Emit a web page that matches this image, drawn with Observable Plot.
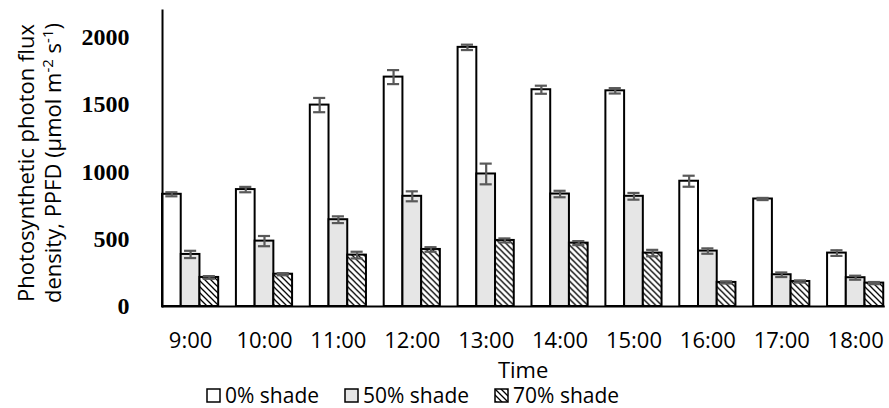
<!DOCTYPE html>
<html>
<head>
<meta charset="utf-8">
<script src="https://cdn.jsdelivr.net/npm/d3@7"></script>
<script src="https://cdn.jsdelivr.net/npm/@observablehq/plot@0.6"></script>
<style>
  body { margin: 0; background: #fff; }
  #chart { width: 889px; height: 408px; position: relative; background: #fff; font-family: "Open Sans", sans-serif; color: #000; }
  .legend { display: flex; align-items: center; height: 26px; padding-left: 206px; font-size: 21px; line-height: 26px; }
  .legend .item { display: flex; align-items: center; margin-right: 25px; }
  .legend svg { margin-right: 4px; }
</style>
</head>
<body>
<div id="chart"></div>
<script>
// ---- data ----
const times = ["9:00", "10:00", "11:00", "12:00", "13:00", "14:00", "15:00", "16:00", "17:00", "18:00"];
const shades = ["0% shade", "50% shade", "70% shade"];
const ppfd0  = [834, 869, 1497, 1705, 1926, 1611, 1603, 931, 799, 397];
const err0   = [15, 20, 53, 52, 20, 30, 20, 41, 8, 21];
const ppfd50 = [387, 486, 645, 819, 985, 836, 819, 412, 236, 214];
const err50  = [27, 38, 25, 37, 77, 24, 25, 20, 17, 15];
const ppfd70 = [216, 240, 382, 424, 491, 471, 397, 179, 186, 174];
const err70  = [10, 8, 25, 17, 15, 15, 24, 8, 8, 8];
const yTicks = [0, 500, 1000, 1500, 2000];
const fills = ["white", "#e6e6e6", "url(#hatch70)"];

const series = [[ppfd0, err0], [ppfd50, err50], [ppfd70, err70]];
const data = [];
times.forEach((t, i) => {
  series.forEach(([vals, errs], j) => {
    data.push({time: t, shade: shades[j], value: vals[i], err: errs[i]});
  });
});

const errColor = "#595959";
const plot = Plot.plot({
  width: 889,
  height: 382,
  marginLeft: 153,
  marginRight: 0,
  marginTop: 10,
  marginBottom: 76,
  style: {fontFamily: "Open Sans, sans-serif", background: "white", color: "black", overflow: "visible"},
  fx: {domain: times, paddingInner: 0.24, paddingOuter: 0.1, align: 0.61, round: false, label: "Time"},
  x: {domain: shades, axis: null, padding: 0, round: false},
  y: {domain: [0, 2200], axis: null},
  color: {domain: shades, range: fills},
  marks: [
    Plot.barY(data, {fx: "time", x: "shade", y: "value", fill: "shade", stroke: "black", strokeWidth: 2}),
    Plot.ruleX(data, {fx: "time", x: "shade", y1: d => d.value - d.err, y2: d => d.value + d.err, stroke: errColor, strokeWidth: 2.2}),
    Plot.tickY(data, {fx: "time", x: "shade", y: d => d.value - d.err, stroke: errColor, strokeWidth: 2.2, insetLeft: 3.3, insetRight: 3.3}),
    Plot.tickY(data, {fx: "time", x: "shade", y: d => d.value + d.err, stroke: errColor, strokeWidth: 2.2, insetLeft: 3.3, insetRight: 3.3}),
    Plot.frame({anchor: "bottom", facet: "super", stroke: "black", strokeWidth: 2}),
    Plot.frame({anchor: "left", facet: "super", stroke: "black", strokeWidth: 2}),
    Plot.axisY({ticks: yTicks, tickFormat: d => String(d), textAnchor: "end", tickSize: 0, tickPadding: 33, fontFamily: "Liberation Serif", fontWeight: "bold", fontSize: 24, label: null}),
    Plot.axisFx({anchor: "bottom", tickSize: 0, tickPadding: 26, fontSize: 22, label: "Time", labelAnchor: "center", labelOffset: 71})
  ]
});

// hatch pattern definition for the 70% shade bars
const svg = d3.select(plot);
const defs = svg.insert("defs", ":first-child");
const pat = defs.append("pattern")
  .attr("id", "hatch70").attr("patternUnits", "userSpaceOnUse")
  .attr("width", 6).attr("height", 6);
pat.append("rect").attr("width", 6).attr("height", 6).attr("fill", "white");
pat.append("path").attr("d", "M0,0L6,6M-3,3L3,9M3,-3L9,3")
  .attr("stroke", "black").attr("stroke-width", 1.3);

// two-line rotated y-axis title
const title = svg.append("g").attr("font-family", "Open Sans, sans-serif").attr("font-size", 22).attr("fill", "black");
title.append("text").attr("text-anchor", "middle")
  .attr("transform", "translate(34,163) rotate(-90)")
  .text("Photosynthetic photon flux");
const t2 = title.append("text").attr("text-anchor", "middle")
  .attr("transform", "translate(61,163) rotate(-90)");
t2.append("tspan").text("density, PPFD (μmol m");
t2.append("tspan").attr("font-size", 15).attr("dy", -8).text("-2");
t2.append("tspan").attr("dy", 8).text(" s");
t2.append("tspan").attr("font-size", 15).attr("dy", -8).text("-1");
t2.append("tspan").attr("dy", 8).text(")");

const chart = document.getElementById("chart");
chart.appendChild(plot);

// legend below the SVG
const legend = document.createElement("div");
legend.className = "legend";
shades.forEach((s, j) => {
  const item = document.createElement("div");
  item.className = "item";
  item.innerHTML = `<svg width="15" height="15"><rect x="1" y="1" width="13" height="13" fill="${fills[j]}" stroke="black" stroke-width="1.5"/></svg><span>${s}</span>`;
  legend.appendChild(item);
});
chart.appendChild(legend);
</script>
</body>
</html>
